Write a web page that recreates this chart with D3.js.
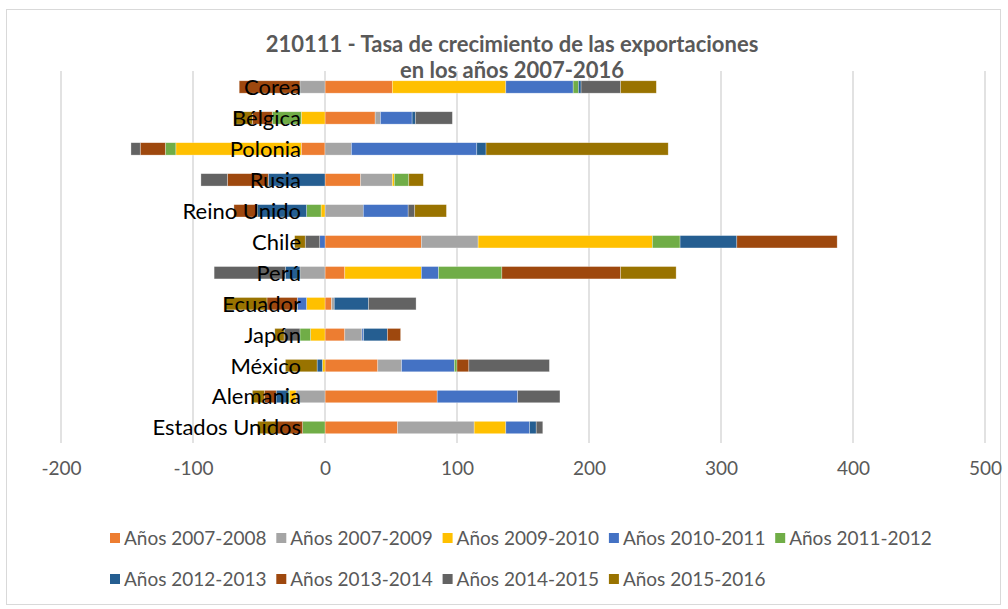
<!DOCTYPE html>
<html>
<head>
<meta charset="utf-8">
<script src="https://cdn.jsdelivr.net/npm/d3@7"></script>
<style>
  html, body { margin: 0; padding: 0; background: #fff; }
  svg { display: block; }
  text { font-family: "Lato", "Open Sans", sans-serif; }
</style>
</head>
<body>
<svg id="chart" width="1008" height="609"></svg>
<script>
// ---------- DATA ----------
const titleLines = ["210111 - Tasa de crecimiento de las exportaciones", "en los años 2007-2016"];
const categories = ["Corea", "Bélgica", "Polonia", "Rusia", "Reino Unido", "Chile", "Perú", "Ecuador", "Japón", "México", "Alemania", "Estados Unidos"];
const seriesNames = ["Años 2007-2008", "Años 2007-2009", "Años 2009-2010", "Años 2010-2011", "Años 2011-2012", "Años 2012-2013", "Años 2013-2014", "Años 2014-2015", "Años 2015-2016"];
const seriesColors = ["#ED7D31", "#A5A5A5", "#FFC000", "#4472C4", "#70AD47", "#255E91", "#9E480E", "#636363", "#997300"];

const s2007_2008 = [51, 38, -18, 27, 0, 73, 15, 5, 15, 40, 85, 55];
const s2007_2009 = [-19, 4, 20, 24, 29, 43, -19, 2, 13, 18, -22, 58];
const s2009_2010 = [86, -18, -95, 1.5, -3, 132, 58, -14, -11, -2, -5, 24];
const s2010_2011 = [51, 24, 95, 0, 34, -4, 13, -7, 1.3, 40, 61, 18];
const s2011_2012 = [4, -22, -8, 11, -11, 21, 48, 0, -8, 2, -1, -17];
const s2012_2013 = [2, 2.5, 7, -43, -37, 43, -11, 26, 18, -4, -9, 5];
const s2013_2014 = [-46, -15, -19, -31, -18, 76, 90, -23, 10, 9, -9, -20];
const s2014_2015 = [30, 28, -7, -20, 5, -11, -54, 36, -12, 61, 32, 5];
const s2015_2016 = [27, -14, 138, 11, 24, -8, 42, -32, -7, -24, -9, -14];

const xTicks = [-200, -100, 0, 100, 200, 300, 400, 500];

// ---------- BUILD TABLE ----------
const seriesValues = [s2007_2008, s2007_2009, s2009_2010, s2010_2011, s2011_2012, s2012_2013, s2013_2014, s2014_2015, s2015_2016];
const table = categories.map((c, i) => {
  const row = { cat: c };
  seriesNames.forEach((s, j) => { row[s] = seriesValues[j][i]; });
  return row;
});

const svg = d3.select("#chart");

// chart border
svg.append("rect").attr("x", 6.5).attr("y", 9.5).attr("width", 994).attr("height", 595)
  .attr("fill", "#fff").attr("stroke", "#D9D9D9").attr("stroke-width", 1);

const x = d3.scaleLinear().domain([-200, 500]).range([61, 985]);
const y = d3.scaleBand().domain(categories).range([71.5, 443]).paddingInner(0.6).paddingOuter(0.3);

// gridlines
svg.append("g").selectAll("line").data(xTicks).join("line")
  .attr("x1", d => x(d)).attr("x2", d => x(d))
  .attr("y1", 71).attr("y2", 443)
  .attr("stroke", "#D9D9D9").attr("stroke-width", 1.5);

// stacked bars (diverging)
const stack = d3.stack().keys(seriesNames).offset(d3.stackOffsetDiverging);
const layers = stack(table);

svg.append("g").selectAll("g").data(layers).join("g")
  .attr("fill", (d, i) => seriesColors[i])
  .selectAll("rect").data(d => d).join("rect")
  .attr("x", d => x(Math.min(d[0], d[1])))
  .attr("width", d => Math.abs(x(d[1]) - x(d[0])))
  .attr("y", d => y(d.data.cat))
  .attr("height", y.bandwidth())
  .attr("stroke", "#ffffff").attr("stroke-opacity", 0.5).attr("stroke-width", 0.6);

// category labels
svg.append("g").selectAll("text").data(categories).join("text")
  .attr("x", 301)
  .attr("y", d => y(d) + y.bandwidth() / 2)
  .attr("dy", "0.36em")
  .attr("text-anchor", "end")
  .attr("font-size", 22)
  .attr("fill", "#000")
  .text(d => d);

// x axis tick labels
const xAxis = d3.axisBottom(x).tickValues(xTicks).tickSize(0).tickPadding(0).tickFormat(d => String(d));
const gx = svg.append("g").attr("transform", "translate(0,461)").call(xAxis);
gx.select(".domain").remove();
gx.selectAll("text").attr("font-size", 19).attr("fill", "#595959")
  .style("font-family", "Lato, 'Open Sans', sans-serif");

// title
svg.append("g").selectAll("text").data(titleLines).join("text")
  .attr("x", 512)
  .attr("y", (d, i) => 52 + i * 26)
  .attr("text-anchor", "middle")
  .attr("font-size", 22)
  .attr("font-weight", "bold")
  .attr("fill", "#595959")
  .text(d => d);

// legend
const legendRows = [seriesNames.slice(0, 5), seriesNames.slice(5)];
const legendX0 = 110, legendStep = 166.3;
const legendY = [538, 579];
legendRows.forEach((row, r) => {
  row.forEach((name, k) => {
    const idx = seriesNames.indexOf(name);
    const lx = legendX0 + k * legendStep;
    svg.append("rect").attr("x", lx).attr("y", legendY[r] - 5).attr("width", 10).attr("height", 10)
      .attr("fill", seriesColors[idx]);
    svg.append("text").attr("x", lx + 14).attr("y", legendY[r]).attr("dy", "0.36em")
      .attr("font-size", 19).attr("fill", "#595959").text(name);
  });
});
</script>
</body>
</html>
